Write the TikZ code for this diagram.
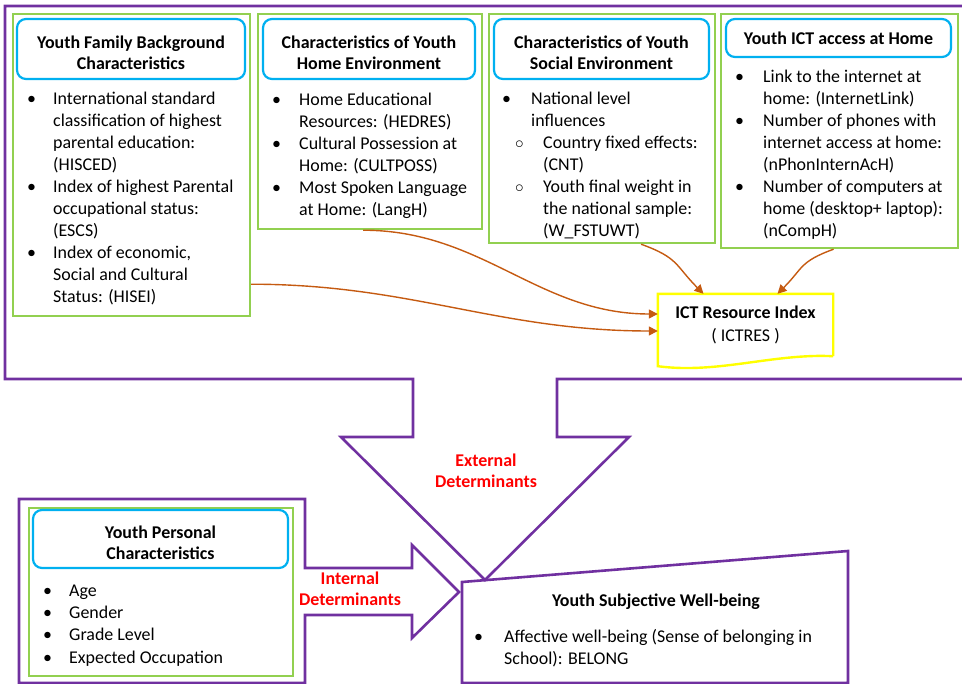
\documentclass[tikz,border=0pt]{standalone}
\usepackage{fontspec}
\setmainfont{Carlito}
\usepackage{tikz}
\usetikzlibrary{positioning}
\usetikzlibrary{arrows.meta}
\usepackage{xcolor}
\definecolor{vio}{HTML}{7030A0}
\definecolor{grn}{HTML}{92D050}
\definecolor{cyn}{HTML}{00B0F0}
\definecolor{brn}{HTML}{C55A11}
\definecolor{yel}{HTML}{FFFF00}
\newcommand{\blist}[2][26bp]{\begin{tabular}[t]{@{}p{#1}@{}l@{}}#2\end{tabular}}
\newcommand{\tstrut}{\rule{0pt}{21bp}}

\begin{document}
\begin{tikzpicture}[x=1bp, y=-1bp,
		grp/.style = {rectangle, draw=grn, line width=2.2bp, anchor=north west, inner sep=0pt},
		ttl/.style = {rectangle, rounded corners=9bp, draw=cyn, line width=2.2bp, align=center, inner sep=0pt, font=\bfseries\fontsize{18}{21}\selectfont},
		lst/.style = {anchor=base west, inner sep=0pt, font=\fontsize{18}{22}\selectfont},
		lbl/.style = {align=center, text=red, inner sep=0pt, font=\bfseries\fontsize{18}{21}\selectfont},
		frm/.style = {draw=vio, line width=2.6bp},
		r/.style = {-{Triangle[length=9bp, width=9bp]}, draw=brn, line width=1.4bp}
		]
		\useasboundingbox (0,0) rectangle (962,684);
		
		%Frames
		\draw[frm] (962,6) -- (5,6) -- (5,379) -- (413,379) -- (413,437) -- (341,437) -- (485,580)
			-- (629,437) -- (557,437) -- (557,379) -- (962,379);
		\draw[frm] (19,499) -- (305,499) -- (305,568) -- (412,568) -- (412,545) -- (459,592) -- (412,638)
			-- (412,615) -- (305,615) -- (305,683) -- (19,683) -- cycle;
		\draw[frm] (462,683) -- (462,582) -- (848,551) -- (848,683) -- cycle;
		
		%Groups
		\node[grp, minimum width=237bp, minimum height=302bp]	(fam)	at	(12,13)	{};
		\node[grp, minimum width=224bp, minimum height=215bp]	(home)	at	(257,13)	{};
		\node[grp, minimum width=226bp, minimum height=229bp]	(soc)	at	(488,13)	{};
		\node[grp, minimum width=237bp, minimum height=234bp]	(acc)	at	(720,13)	{};
		\node[grp, minimum width=264bp, minimum height=168bp]	(per)	at	(28,507)	{};
		
		%Titles
		\node[ttl, minimum width=228bp, minimum height=60bp]	(famttl)	at	(131,49)	{\tstrut Youth Family Background\\Characteristics};
		\node[ttl, minimum width=212bp, minimum height=60bp]	(homettl)	at	(369,49)	{\tstrut Characteristics of Youth\\Home Environment};
		\node[ttl, minimum width=215bp, minimum height=60bp]	(socttl)	at	(601.5,49)	{\tstrut Characteristics of Youth\\Social Environment};
		\node[ttl, minimum width=225bp, minimum height=38bp]	(accttl)	at	(838.5,38)	{Youth ICT access at Home};
		\node[ttl, minimum width=255bp, minimum height=58bp]	(perttl)	at	(160.5,539)	{\tstrut Youth Personal\\Characteristics};
		\node[font=\bfseries\fontsize{18}{21}\selectfont, inner sep=0pt]	(subttl)	at	(656,602)	{Youth Subjective Well-being};
		
		%Lists
		\node[lst]	(famlst)	at	(27,105)	{\blist{
			\textbullet & International standard\\
			& classification of highest\\
			& parental education:\\
			& (HISCED)\\
			\textbullet & Index of highest Parental\\
			& occupational status:\\
			& (ESCS)\\
			\textbullet & Index of economic,\\
			& Social and Cultural\\
			& Status: (HISEI)}};
		\node[lst]	(homelst)	at	(272,106)	{\blist[27bp]{
			\textbullet & Home Educational\\
			& Resources: (HEDRES)\\
			\textbullet & Cultural Possession at\\
			& Home: (CULTPOSS)\\
			\textbullet & Most Spoken Language\\
			& at Home: (LangH)}};
		\node[lst]	(soclst)	at	(502,105)	{\blist[29bp]{
			\textbullet & National level\\
			& influences\\
			& \hspace*{-16bp}\makebox[28bp][l]{$\circ$}Country fixed effects:\\
			& \hspace*{12bp}(CNT)\\
			& \hspace*{-16bp}\makebox[28bp][l]{$\circ$}Youth final weight in\\
			& \hspace*{12bp}the national sample:\\
			& \hspace*{12bp}(W\_FSTUWT)}};
		\node[lst]	(acclst)	at	(735,83)	{\blist[28bp]{
			\textbullet & Link to the internet at\\
			& home: (InternetLink)\\
			\textbullet & Number of phones with\\
			& internet access at home:\\
			& (nPhonInternAcH)\\
			\textbullet & Number of computers at\\
			& home (desktop+ laptop):\\
			& (nCompH)}};
		\node[lst, font=\fontsize{18}{22.5}\selectfont]	(perlst)	at	(43,596)	{\blist{
			\textbullet & Age\\
			\textbullet & Gender\\
			\textbullet & Grade Level\\
			\textbullet & Expected Occupation}};
		\node[lst, font=\fontsize{18}{23}\selectfont]	(sublst)	at	(474,642)	{\blist[30bp]{
			\textbullet & Affective well-being (Sense of belonging in\\
			& School): BELONG}};
		
		%Index
		\node[minimum width=175bp, minimum height=62bp, align=center, inner sep=0pt, font=\fontsize{18}{23}\selectfont]
			(ict)	at	(745.5,325)	{\textbf{ICT Resource Index}\\( ICTRES )};
		\draw[draw=yel, line width=2.4bp] (ict.south east) -- (ict.north east) -- (ict.north west) -- ([yshift=-10bp]ict.south west)
			.. controls +(60,8) and +(-60,-3) .. (ict.south east);
		
		%Labels
		\node[lbl]	(extlbl)	at	(486,471)	{External\\Determinants};
		\node[lbl]	(intlbl)	at	(350,589)	{Internal\\Determinants};
		
		%Lines
		\draw[r]	([yshift=33bp]fam.south east)	to[out=0, in=180]	([yshift=-6bp]ict.west);
		\draw[r]	([xshift=-7bp]home.south)	to[out=0, in=180]	([yshift=11bp]ict.west);
		\draw[r]	([xshift=39bp]soc.south)	to[out=-20, in=135, looseness=1.3]	([xshift=-42bp]ict.north);
		\draw[r]	([xshift=-6bp]acc.south)	to[out=200, in=45, looseness=1.3]	([xshift=32bp]ict.north);
	\end{tikzpicture}
\end{document}
